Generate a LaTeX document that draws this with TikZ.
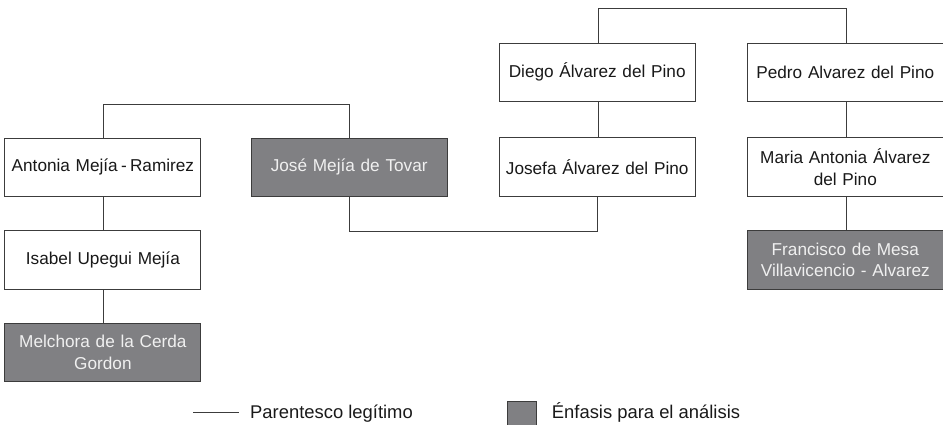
\documentclass[tikz,border=0pt]{standalone}
\usepackage{fontspec}
\setmainfont{Liberation Sans}
\definecolor{boxgray}{RGB}{128,128,131}
\definecolor{linegray}{RGB}{60,60,60}
\definecolor{boxtext}{RGB}{240,240,240}
\begin{document}
\begin{tikzpicture}[x=1pt,y=-1pt,
  person/.style={draw=linegray, line width=0.9pt, fill=white, minimum width=196pt, minimum height=58.5pt,
    text width=190pt, align=center, inner sep=0pt, font=\fontsize{17.2}{21.5}\selectfont, text=black!90},
  emph/.style={person, fill=boxgray, text=boxtext},
  link/.style={draw=linegray, line width=0.9pt},
  legendtext/.style={anchor=base west, inner sep=0pt, font=\fontsize{18.4}{22}\selectfont, text=black!90}]
\useasboundingbox (0,0) rectangle (943,424);
% persons
\node[person] (diego)   at (597.2,72.2)  {Diego Álvarez del Pino};
\node[person] (pedro)   at (845.3,72.2)  {Pedro Alvarez del Pino};
\node[person] (antonia) at (102.9,167.3) {Antonia Mejía\hspace{0.2em}-\hspace{0.18em}Ramirez};
\node[emph]   (jose)    at (349.2,167.3) {José Mejía de Tovar};
\node[person] (josefa)  at (597.2,167.0) {Josefa Álvarez del Pino};
\node[person] (maria)   at (845.3,167.0) {Maria Antonia Álvarez\\del Pino};
\node[person] (isabel)  at (102.9,260.0) {Isabel Upegui Mejía};
\node[emph]   (francisco) at (845.3,260.0) {Francisco de Mesa\\Villavicencio - Alvarez};
\node[emph]   (melchora) at (102.9,352.4) {Melchora de la Cerda\\Gordon};
% connectors
\draw[link] (diego.north -| 598.3,0) -- (598.3,8.3) -- (846.7,8.3) -- (pedro.north -| 846.7,0);
\draw[link] (antonia.north -| 103.3,0) -- (103.3,104) -- (349.3,104) -- (jose.north -| 349.3,0);
\draw[link] (diego.south -| 598.3,0) -- (josefa.north -| 598.3,0);
\draw[link] (pedro.south -| 846.7,0) -- (maria.north -| 846.7,0);
\draw[link] (maria.south -| 846.7,0) -- (francisco.north -| 846.7,0);
\draw[link] (antonia.south -| 103.3,0) -- (isabel.north -| 103.3,0);
\draw[link] (isabel.south -| 103.3,0) -- (melchora.north -| 103.3,0);
\draw[link] (jose.south -| 349.3,0) -- (349.3,231) -- (597.8,231) -- (josefa.south -| 597.8,0);
% legend
\coordinate (la) at (193,412.7);
\coordinate (lb) at (239,412.7);
\draw[link] (la) -- (lb);
\node[legendtext] (ltext) at (250,418.3) {Parentesco legítimo};
\node[draw=linegray, line width=0.9pt, fill=boxgray, minimum width=28.4pt, minimum height=26pt, inner sep=0pt, anchor=north west] (lsq) at (507.3,400.7) {};
\node[legendtext] (etext) at (551.7,418.3) {Énfasis para el análisis};
\end{tikzpicture}
\end{document}
